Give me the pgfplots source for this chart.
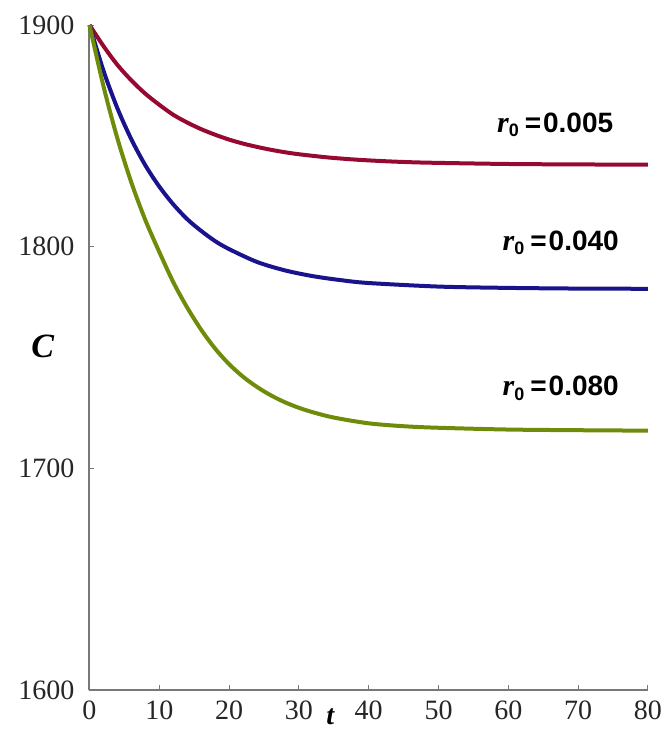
\documentclass[border=0pt]{standalone}
\usepackage{fontspec}
\setmainfont{Liberation Serif}
\newfontfamily\lsans{Liberation Sans}
\usepackage{pgfplots}
\pgfplotsset{compat=1.18}
\definecolor{cred}{RGB}{150,10,50}
\definecolor{cblue}{RGB}{25,20,140}
\definecolor{cgreen}{RGB}{110,140,10}
\definecolor{axgray}{RGB}{120,120,120}
\newcommand{\rlab}[1]{{\fontsize{15}{15}\selectfont\bfseries\itshape r}\raisebox{-0.5ex}{\lsans\bfseries\fontsize{9}{9}\selectfont 0}\hspace{3pt}{\lsans\bfseries\fontsize{14}{14}\selectfont =\hspace{1pt}#1}}
\begin{document}
\begin{tikzpicture}
\path[use as bounding box] (-44.75pt,-23pt) rectangle (289.25pt,345pt);
\begin{axis}[
  at={(0,0)}, anchor=south west,
  scale only axis,
  width=279.25pt, height=332.5pt,
  xmin=0, xmax=80, ymin=1600, ymax=1900,
  axis lines=left,
  axis line style={-, draw=axgray, line width=1pt},
  xtick={0,10,...,80},
  ytick={1600,1700,1800,1900},
  tick align=inside,
  major tick length=2.5pt,
  tick style={axgray, line width=0.5pt},
  /pgf/number format/assume math mode=true,
  /pgf/number format/set thousands separator={},
  ticklabel style={font=\fontsize{14}{14}\selectfont, text=black!85},
  xticklabel style={yshift=-2pt},
  yticklabel style={xshift=-4pt},
  clip=false,
]
\addplot[cred, line width=2pt, smooth] coordinates {
(0,1900) (2,1890.5) (4,1882) (6,1875) (8,1869) (10,1864) (12,1859.5) (14,1856)
(16,1853) (18,1850.5) (20,1848.3) (22,1846.5) (24,1845) (26,1843.7) (28,1842.6)
(30,1841.7) (34,1840.3) (38,1839.3) (42,1838.6) (46,1838.1) (50,1837.8)
(60,1837.3) (70,1837.1) (80,1837)
};
\addplot[cblue, line width=2pt, smooth] coordinates {
(0,1900) (2,1879.4) (4,1862.4) (6,1848.4) (8,1836.7) (10,1827.1) (12,1819.1)
(14,1812.4) (16,1807.1) (18,1802.5) (20,1798.9) (24,1793.1) (28,1789.3)
(32,1786.7) (36,1784.9) (40,1783.6) (50,1782.0) (60,1781.4) (70,1781.1) (80,1781)
};
\addplot[cgreen, line width=2pt, smooth] coordinates {
(0,1900) (2,1872.4) (4,1848.8) (6,1828.9) (8,1812) (10,1797.6) (12,1784)
(14,1772.5) (16,1762.5) (18,1754) (20,1747) (22,1741.3) (24,1736.7) (26,1732.9)
(28,1729.8) (30,1727.3) (32,1725.3) (35,1722.9) (40,1720.3) (45,1719) (50,1718.3)
(60,1717.5) (70,1717.2) (80,1717)
};
\node at (axis cs:66.7,1855) {\rlab{0.005}};
\node at (axis cs:67.5,1801.7) {\rlab{0.040}};
\node at (axis cs:67.5,1736) {\rlab{0.080}};
\node[font=\fontsize{17}{17}\selectfont\bfseries\itshape] at (axis cs:-6.7,1755) {C};
\node[font=\fontsize{14}{14}\selectfont\bfseries\itshape] at (axis cs:34.5,1588) {t};
\end{axis}
\end{tikzpicture}
\end{document}
